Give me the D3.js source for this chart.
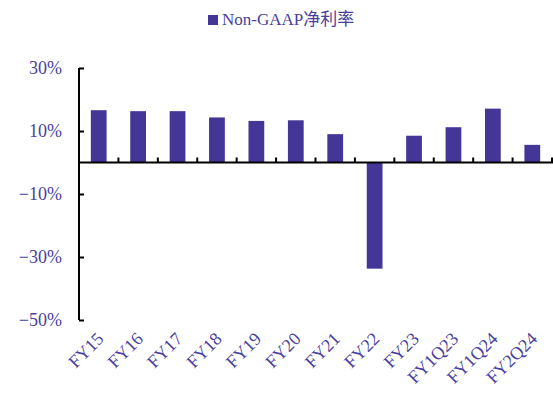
<!DOCTYPE html>
<html>
<head>
<meta charset="utf-8">
<script src="https://cdn.jsdelivr.net/npm/d3@7"></script>
<style>
  html, body { margin: 0; padding: 0; background: #fff; }
  svg { display: block; }
  text { font-family: "Liberation Serif", "Noto Sans CJK SC", serif; }
</style>
</head>
<body>
<svg id="chart" width="553" height="394"></svg>
<script>
// Non-GAAP net margin by period (%)
const categories = ["FY15", "FY16", "FY17", "FY18", "FY19", "FY20", "FY21", "FY22", "FY23", "FY1Q23", "FY1Q24", "FY2Q24"];
const margin = [16.6, 16.3, 16.3, 14.3, 13.2, 13.4, 9.0, -33.7, 8.5, 11.2, 17.1, 5.6];
const yTicks = [30, 10, -10, -30, -50];
const seriesName = "Non-GAAP净利率";

const barColor = "#433696";
const textColor = "#4a3f9e";

const svg = d3.select("#chart");
const W = 553, H = 394;
const plotLeft = 79, plotRight = 552, plotTop = 68, plotBottom = 320;

svg.append("rect").attr("width", W).attr("height", H).attr("fill", "#fff");

const x = d3.scaleBand().domain(categories).range([plotLeft, plotRight]).paddingInner(0.6).paddingOuter(0.3);
const xEdge = d3.scaleBand().domain(categories).range([plotLeft, plotRight]).padding(0);
const y = d3.scaleLinear().domain([-50, 30]).range([plotBottom, plotTop]);

// bars
svg.append("g").selectAll("rect")
  .data(categories)
  .join("rect")
  .attr("x", d => x(d))
  .attr("width", x.bandwidth())
  .attr("y", (d, i) => y(Math.max(0, margin[i])))
  .attr("height", (d, i) => Math.abs(y(margin[i]) - y(0)))
  .attr("fill", barColor);

// y axis
const yAxis = d3.axisRight(y).tickValues(yTicks).tickSize(5).tickFormat("");
const gy = svg.append("g").attr("transform", `translate(${plotLeft},0)`).call(yAxis);
gy.select(".domain").attr("d", `M0,${plotTop}V${plotBottom}`).attr("stroke", "#000").attr("stroke-width", 2);
gy.selectAll(".tick line").attr("stroke", "#000").attr("stroke-width", 2);

svg.append("g").selectAll("text")
  .data(yTicks)
  .join("text")
  .attr("x", 62)
  .attr("y", d => y(d))
  .attr("dy", "0.35em")
  .attr("text-anchor", "end")
  .attr("fill", textColor)
  .attr("font-size", 18)
  .text(d => (d < 0 ? "\u2212" : "") + Math.abs(d) + "%");

// zero baseline with category separators
const gx = svg.append("g").attr("transform", `translate(0,${y(0)})`);
gx.append("line").attr("x1", plotLeft).attr("x2", W).attr("stroke", "#000").attr("stroke-width", 2);
gx.selectAll("line.sep")
  .data(categories)
  .join("line")
  .attr("class", "sep")
  .attr("x1", d => xEdge(d) + xEdge.bandwidth())
  .attr("x2", d => xEdge(d) + xEdge.bandwidth())
  .attr("y1", 0).attr("y2", -5)
  .attr("stroke", "#000").attr("stroke-width", 2);

// category labels along the bottom, rotated
svg.append("g").selectAll("text")
  .data(categories)
  .join("text")
  .attr("transform", d => `translate(${x(d) + x.bandwidth() / 2 + 6},${plotBottom + 20}) rotate(-45)`)
  .attr("text-anchor", "end")
  .attr("fill", textColor)
  .attr("font-size", 18)
  .text(d => d);

// legend
const lg = svg.append("g").attr("transform", "translate(208,15)");
lg.append("rect").attr("width", 10).attr("height", 10).attr("fill", barColor);
lg.append("text").attr("x", 14).attr("y", 10).attr("fill", textColor).attr("font-size", 17).text(seriesName);
</script>
</body>
</html>
